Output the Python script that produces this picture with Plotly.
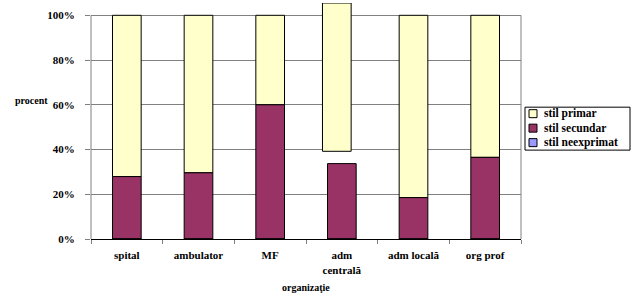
import plotly.graph_objects as go

categories = ["spital", "ambulator", "MF", "adm<br>centrală", "adm locală", "org prof"]
secundar = [27.9, 29.6, 60.0, 33.7, 18.5, 36.5]
primar_start = [27.9, 29.6, 60.0, 39.2, 18.5, 36.5]
primar_end = [100, 100, 100, 105.5, 100, 100]
neexprimat = [0, 0, 0, 0, 0, 0]
y_ticks = [0, 20, 40, 60, 80, 100]
series_names = ["stil primar", "stil secundar", "stil neexprimat"]
series_colors = ["#FFFFCC", "#993366", "#9999FF"]

primar_len = [e - s for s, e in zip(primar_start, primar_end)]

FONT = "Liberation Serif, Times New Roman, serif"
GRID = "#808080"
ytop = max(primar_end)

# plot area geometry in pixels: x 91..521, 0% at y=239, 100% at y=15
PL, PR, PB, PT100 = 91, 521, 239, 15
PX_PER = (PB - PT100) / 100.0
PLOT_H = PX_PER * ytop


def px2x(px):
    return (px - PL) / (PR - PL)


def py2y(py):
    return (PB - py) / PX_PER


def py2paper(py):
    return (PB - py) / PLOT_H


fig = go.Figure()
fig.add_trace(go.Bar(
    x=categories, y=primar_len, base=primar_start, name=series_names[0],
    marker=dict(color=series_colors[0], line=dict(color="black", width=1)),
    width=0.4, offset=[-0.2, -0.2, -0.2, -0.27, -0.2, -0.2],
))
fig.add_trace(go.Bar(
    x=categories, y=secundar, name=series_names[1],
    marker=dict(color=series_colors[1], line=dict(color="black", width=1)),
    width=0.4, offset=-0.2,
))
fig.add_trace(go.Bar(
    x=categories, y=neexprimat, name=series_names[2],
    marker=dict(color=series_colors[2], line=dict(color="black", width=1)),
    width=0.4, offset=-0.2,
))

top_margin = PT100 - PX_PER * (ytop - 100)
fig.update_layout(
    width=632, height=299,
    margin=dict(l=PL, r=632 - PR, t=top_margin, b=299 - PB, autoexpand=False),
    barmode="overlay",
    plot_bgcolor="white", paper_bgcolor="white",
    font=dict(family=FONT, size=11, color="black"),
    showlegend=False,
)
fig.update_xaxes(
    type="category", showline=True, linecolor="black", linewidth=1,
    ticks="outside", tickson="boundaries", ticklen=4, tickcolor=GRID,
    showgrid=False, ticklabelstandoff=6,
    tickfont=dict(family=FONT, size=11, color="black", weight="bold"),
)
fig.update_yaxes(
    range=[0, ytop], tickvals=y_ticks, ticktext=[f"{v}%" for v in y_ticks],
    showline=False,
    ticks="outside", ticklen=5, tickcolor=GRID,
    showgrid=True, gridcolor=GRID, gridwidth=1,
    zeroline=False, ticklabelstandoff=8,
    tickfont=dict(family=FONT, size=11, color="black", weight="bold"),
)
# plot-area frame (left and right edges), from 0% to 100%
for xe in (0, 1):
    fig.add_shape(type="line", xref="paper", yref="y", x0=xe, x1=xe,
                  y0=0, y1=100, line=dict(color=GRID, width=1), layer="below")

# legend box (drawn to match the original compact layout)
fig.add_shape(type="rect", xref="paper", yref="paper",
              x0=px2x(525), x1=px2x(630), y0=py2paper(150), y1=py2paper(107),
              line=dict(color="black", width=1), fillcolor="white")
row_py = [113.5, 128, 142.5]
for name, col, py in zip(series_names, series_colors, row_py):
    fig.add_shape(type="rect", xref="paper", yref="paper",
                  x0=px2x(529), x1=px2x(537),
                  y0=py2paper(py + 4), y1=py2paper(py - 4),
                  line=dict(color="black", width=1), fillcolor=col)
    fig.add_annotation(
        text=name, xref="paper", yref="paper", x=px2x(542), y=py2paper(py),
        xanchor="left", yanchor="middle", showarrow=False,
        font=dict(family=FONT, size=11.5, color="black", weight="bold"),
    )

fig.add_annotation(
    text="procent", xref="paper", yref="paper", x=px2x(13), y=py2paper(100),
    xanchor="left", yanchor="middle", showarrow=False,
    font=dict(family=FONT, size=10, color="black", weight="bold"),
)
fig.add_annotation(
    text="organizaţie", xref="paper", yref="paper", x=px2x(306), y=py2paper(288),
    xanchor="center", yanchor="middle", showarrow=False,
    font=dict(family=FONT, size=10, color="black", weight="bold"),
)
fig.write_html("out.html")
